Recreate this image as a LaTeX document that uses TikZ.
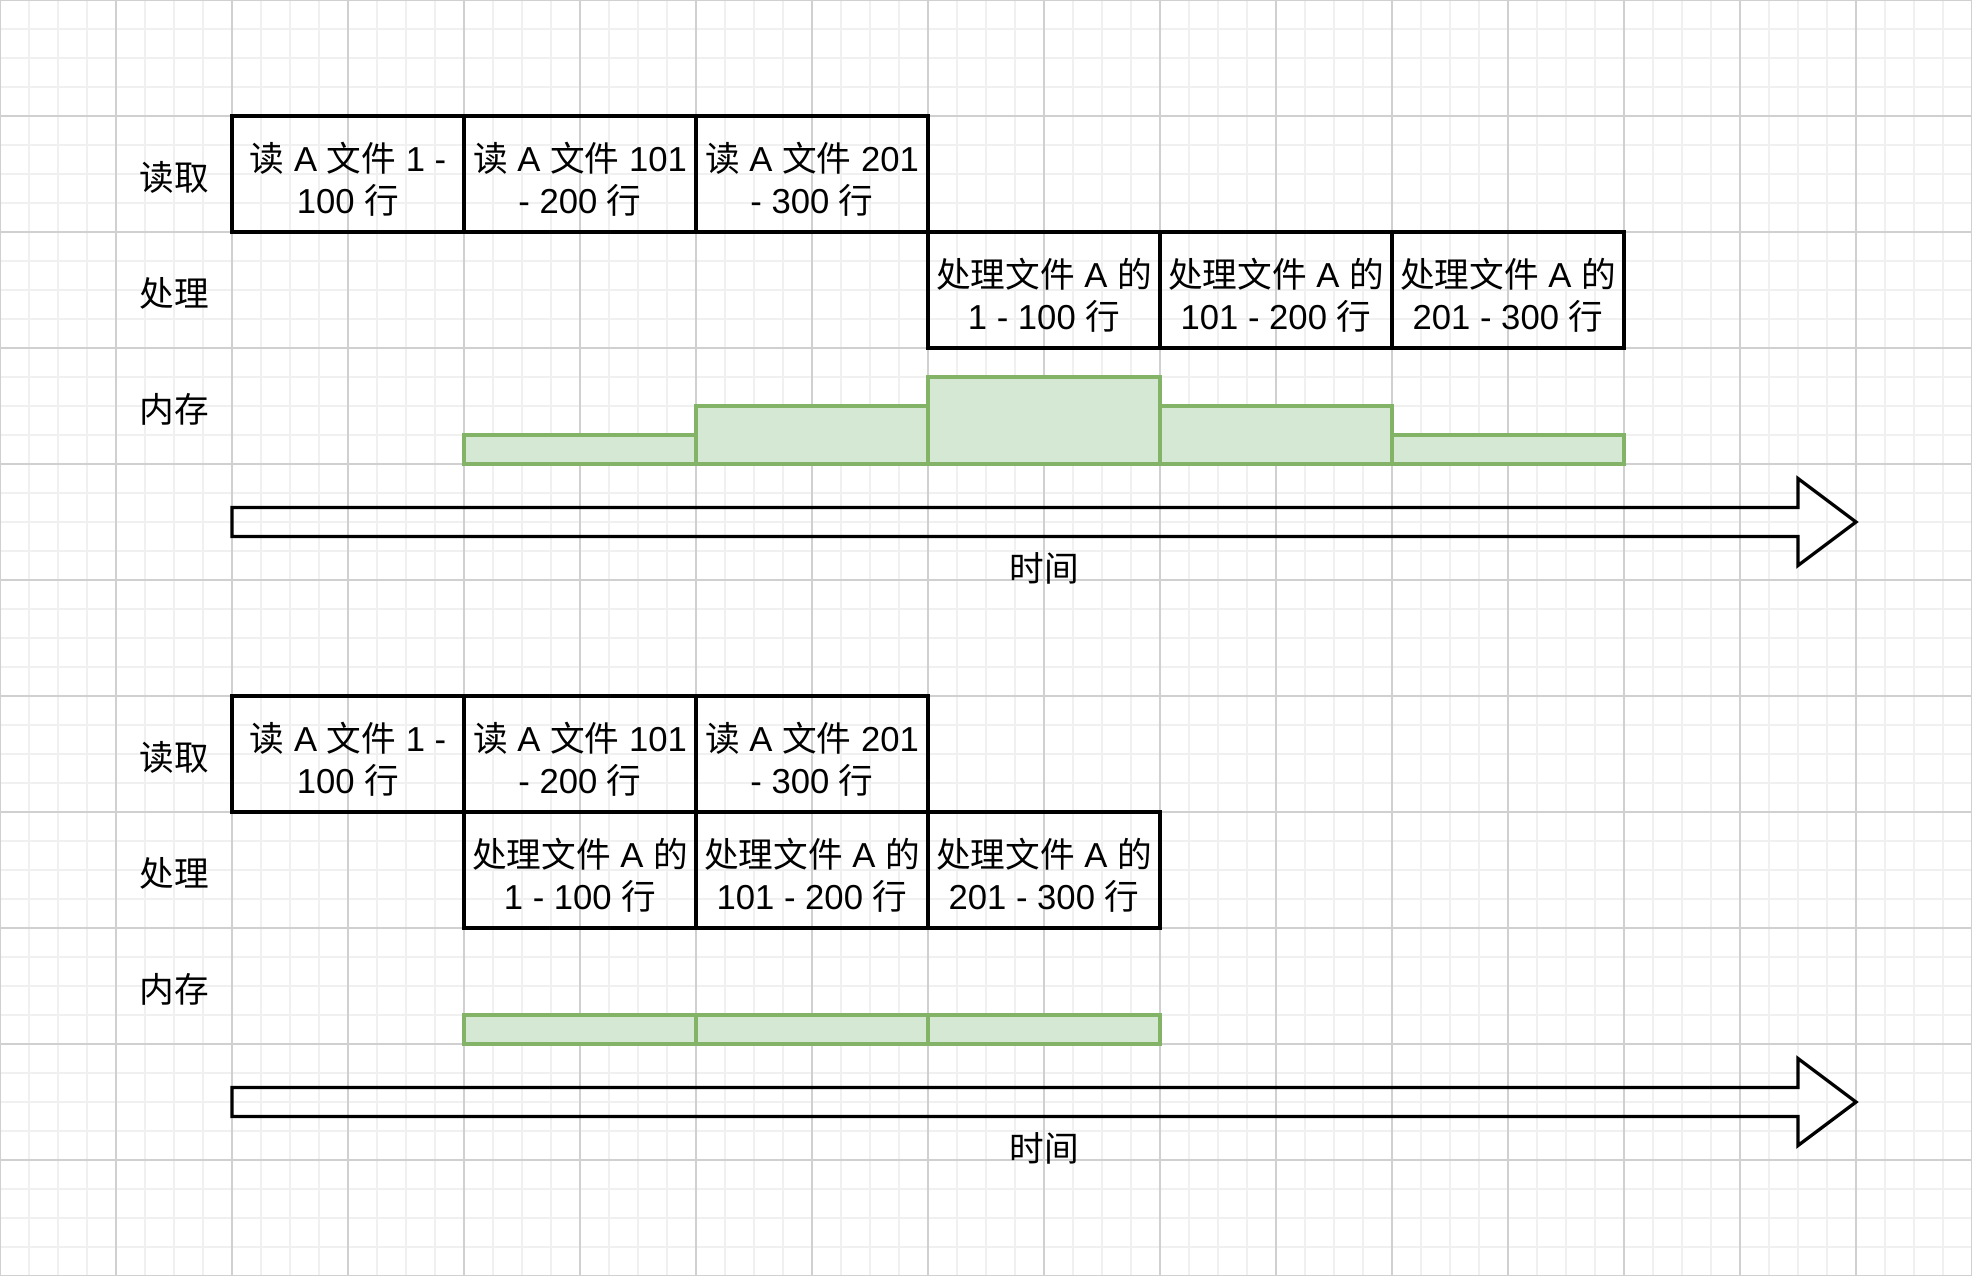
\documentclass[tikz,border=0pt]{standalone}
\usepackage{fontspec}
\setmainfont{Liberation Sans}
\newfontfamily\cjk{Noto Sans CJK SC}
\newcommand\zh[1]{{\cjk #1}}
\definecolor{memfill}{HTML}{D5E8D4}
\definecolor{memline}{HTML}{82B366}
\definecolor{minorgrid}{HTML}{F0F0F0}
\definecolor{majorgrid}{HTML}{D0D0D0}
\begin{document}
\begin{tikzpicture}[x=0.5cm,y=-0.5cm,
  txt/.style={font=\fontsize{17}{20.5}\selectfont, text=black},
  box/.style={txt, draw=black, line width=1.6pt, minimum width=4cm, minimum height=2cm, inner sep=0pt, align=center},
  boxtext/.style={txt, align=center, inner sep=0pt, yshift=-2.5pt},
  mem/.style={draw=memline, fill=memfill, line width=1.6pt, inner sep=0pt, minimum width=4cm},
  lab/.style={txt, font=\fontsize{17}{20.5}\selectfont\cjk, yshift=-1.5pt},
  timearrow/.style={draw=black, line width=1.6pt, line join=miter}
]
\useasboundingbox (0,0) rectangle (68,44);
\fill[white] (0,0) rectangle (68,44);
% grid
\foreach \i in {0,...,68} \draw[minorgrid, line width=0.8pt] (\i,0) -- (\i,44);
\foreach \j in {0,...,44} \draw[minorgrid, line width=0.8pt] (0,\j) -- (68,\j);
\foreach \i in {0,4,...,68} \draw[majorgrid, line width=0.55pt] (\i,0) -- (\i,44);
\foreach \j in {0,4,...,44} \draw[majorgrid, line width=0.55pt] (0,\j) -- (68,\j);

% ---------- top diagram ----------
\node[lab] (l1r) at (6,6) {读取};
\node[lab] (l1p) at (6,10) {处理};
\node[lab] (l1m) at (6,14) {内存};

\node[box] (r1a) at (12,6) {};
\node[box] (r1b) at (20,6) {};
\node[box] (r1c) at (28,6) {};
\node[boxtext] at (r1a) {\zh{读} A \zh{文件} 1 -\\100 \zh{行}};
\node[boxtext] at (r1b) {\zh{读} A \zh{文件} 101\\- 200 \zh{行}};
\node[boxtext] at (r1c) {\zh{读} A \zh{文件} 201\\- 300 \zh{行}};

\node[box] (p1a) at (36,10) {};
\node[box] (p1b) at (44,10) {};
\node[box] (p1c) at (52,10) {};
\node[boxtext] at (p1a) {\zh{处理文件} A \zh{的}\\1 - 100 \zh{行}};
\node[boxtext] at (p1b) {\zh{处理文件} A \zh{的}\\101 - 200 \zh{行}};
\node[boxtext] at (p1c) {\zh{处理文件} A \zh{的}\\201 - 300 \zh{行}};

\node[mem, minimum height=0.5cm] (m1a) at (20,15.5) {};
\node[mem, minimum height=1cm]   (m1b) at (28,15) {};
\node[mem, minimum height=1.5cm] (m1c) at (36,14.5) {};
\node[mem, minimum height=1cm]   (m1d) at (44,15) {};
\node[mem, minimum height=0.5cm] (m1e) at (52,15.5) {};

\draw[timearrow] (8,17.5) -- (62,17.5) -- (62,16.5) -- (64,18) -- (62,19.5) -- (62,18.5) -- (8,18.5) -- cycle;
\node[lab] (t1) at (36,19.5) {时间};

% ---------- bottom diagram ----------
\node[lab] (l2r) at (6,26) {读取};
\node[lab] (l2p) at (6,30) {处理};
\node[lab] (l2m) at (6,34) {内存};

\node[box] (r2a) at (12,26) {};
\node[box] (r2b) at (20,26) {};
\node[box] (r2c) at (28,26) {};
\node[boxtext] at (r2a) {\zh{读} A \zh{文件} 1 -\\100 \zh{行}};
\node[boxtext] at (r2b) {\zh{读} A \zh{文件} 101\\- 200 \zh{行}};
\node[boxtext] at (r2c) {\zh{读} A \zh{文件} 201\\- 300 \zh{行}};

\node[box] (p2a) at (20,30) {};
\node[box] (p2b) at (28,30) {};
\node[box] (p2c) at (36,30) {};
\node[boxtext] at (p2a) {\zh{处理文件} A \zh{的}\\1 - 100 \zh{行}};
\node[boxtext] at (p2b) {\zh{处理文件} A \zh{的}\\101 - 200 \zh{行}};
\node[boxtext] at (p2c) {\zh{处理文件} A \zh{的}\\201 - 300 \zh{行}};

\node[mem, minimum height=0.5cm] (m2a) at (20,35.5) {};
\node[mem, minimum height=0.5cm] (m2b) at (28,35.5) {};
\node[mem, minimum height=0.5cm] (m2c) at (36,35.5) {};

\draw[timearrow] (8,37.5) -- (62,37.5) -- (62,36.5) -- (64,38) -- (62,39.5) -- (62,38.5) -- (8,38.5) -- cycle;
\node[lab] (t2) at (36,39.5) {时间};
\end{tikzpicture}
\end{document}
